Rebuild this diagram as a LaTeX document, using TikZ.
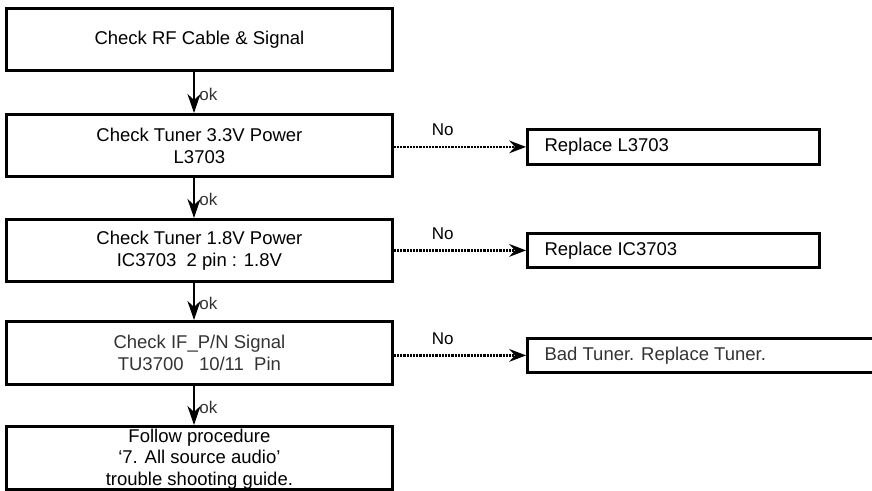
\documentclass[tikz,border=0pt]{standalone}
\usepackage{fontspec}
\setmainfont{Liberation Sans}
\usetikzlibrary{arrows.meta}
\definecolor{txtgray}{HTML}{333333}
\begin{document}
\begin{tikzpicture}[x=1pt,y=-1pt,
  box/.style={draw=black,line width=2.8pt,inner sep=0pt},
  btxt/.style={font=\fontsize{18.5}{22}\selectfont,align=center},
  rtxt/.style={font=\fontsize{18.5}{22}\selectfont,anchor=west},
  okarrow/.style={line width=2.6pt,-{Stealth[length=19pt,width=13pt,inset=6pt]}},
  noarrow/.style={line width=2.2pt,densely dotted,-{Stealth[length=17pt,width=13pt,inset=6pt,line width=0pt]}},
  lbl/.style={font=\fontsize{17}{20}\selectfont,inner sep=0pt}]
\useasboundingbox (0,0) rectangle (872,490);
% left column boxes
\node[box,minimum width=386pt,minimum height=62pt,anchor=north west] (b1) at (5,7) {};
\node[btxt] at (b1.center) {Check RF Cable \& Signal};
\node[box,minimum width=386pt,minimum height=62pt,anchor=north west] (b2) at (5,113) {};
\node[btxt] at (b2.center) {Check Tuner 3.3V Power\\L3703};
\node[box,minimum width=386pt,minimum height=62pt,anchor=north west] (b3) at (5,218) {};
\node[btxt] at (b3.center) {Check Tuner 1.8V Power\\IC3703~ 2 pin : 1.8V};
\node[box,minimum width=386pt,minimum height=63pt,anchor=north west] (b4) at (5,320) {};
\node[btxt,text=txtgray] at (b4.center) {Check IF\_P/N Signal\\TU3700~~~10/11~ Pin};
\node[box,minimum width=386pt,minimum height=63pt,anchor=north west] (b5) at (5,425) {};
\node[btxt,font=\fontsize{18.5}{21.5}\selectfont] at ([yshift=-1pt]b5.center) {Follow procedure\\`7. All source audio'\\trouble shooting guide.};
% right boxes
\node[box,minimum width=292pt,minimum height=35pt,anchor=north west] (r1) at (526,128) {};
\node[rtxt] at ([xshift=15pt]r1.west) {Replace L3703};
\node[box,minimum width=292pt,minimum height=34pt,anchor=north west] (r2) at (526,232) {};
\node[rtxt] at ([xshift=15pt]r2.west) {Replace IC3703};
\node[box,minimum width=360pt,minimum height=34pt,anchor=north west] (r3) at (526,337) {};
\node[rtxt,text=txtgray] at ([xshift=15pt]r3.west) {Bad Tuner. Replace Tuner.};
% ok arrows
\foreach \a/\b in {b1/b2,b2/b3,b3/b4,b4/b5}{
  \draw[okarrow] (\a.south -| 194,0) -- (\b.north -| 194,0)
    node[pos=0.55,anchor=west,lbl,text=txtgray,xshift=4pt] {ok};
}
% No arrows
\draw[noarrow] (b2.east |- r1.west) -- (r1.west) node[pos=0.37,lbl,above=10pt] {No};
\draw[noarrow] (b3.east |- r2.west) -- (r2.west) node[pos=0.37,lbl,above=10pt] {No};
\draw[noarrow] (b4.east |- r3.west) -- (r3.west) node[pos=0.37,lbl,above=10pt] {No};
\end{tikzpicture}
\end{document}
